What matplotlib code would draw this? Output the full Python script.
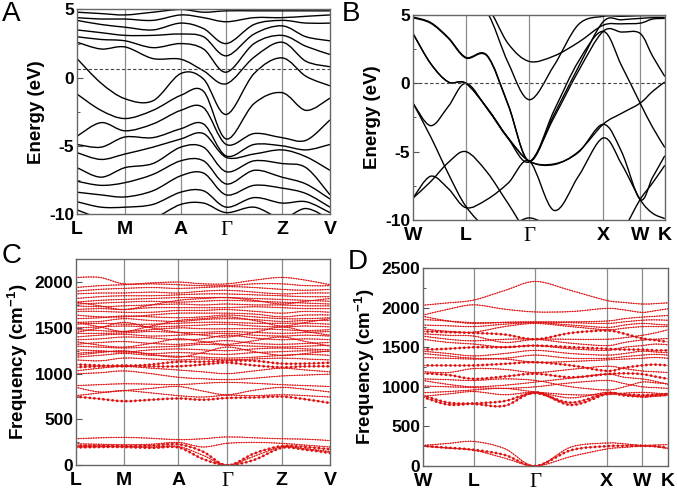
import numpy as np
import matplotlib
matplotlib.use("Agg")
import matplotlib.pyplot as plt
from matplotlib.path import Path
from matplotlib.patches import PathPatch
from matplotlib.ticker import MultipleLocator

plt.rcParams['font.family'] = 'Liberation Sans'
plt.rcParams['font.weight'] = 'bold'
plt.rcParams['axes.labelweight'] = 'bold'
plt.rcParams['axes.unicode_minus'] = False
plt.rcParams['mathtext.fontset'] = 'custom'
plt.rcParams['mathtext.bf'] = 'Liberation Sans:bold'
plt.rcParams['mathtext.rm'] = 'Liberation Sans:bold'

# ---------------- panel A: electronic bands (eV), energies sorted per k point
a_kpos = [0, 0.19, 0.41, 0.59, 0.81, 1.0]
a_klabels = ['L', 'M', 'A', 'Γ', 'Z', 'V']
a_k = [0, 0.095, 0.19, 0.30, 0.41, 0.50, 0.59, 0.70, 0.81, 0.905, 1.0]
a_energy_by_k = [
    [5.3, 4.8, 4.4, 4.2, 3.5, 3.0, 2.6, 1.4, -1.2, -4.3, -4.9, -5.5, -6.6, -7.6, -8.4, -9.1, -9.7, -10.3],
    [5.2, 4.7, 4.3, 3.9, 3.3, 2.8, 2.1, -0.4, -2.4, -3.3, -5.1, -6.0, -7.3, -7.9, -8.6, -9.5, -10.3, -10.6],
    [5.2, 4.6, 4.3, 3.7, 3.1, 2.7, 2.25, -1.55, -3.0, -3.9, -4.35, -5.6, -6.6, -7.7, -8.75, -9.5, -10.3, -10.6],
    [5.3, 4.8, 4.2, 3.5, 3.1, 2.2, 1.4, -1.7, -2.4, -3.4, -4.4, -5.1, -6.3, -7.1, -8.3, -9.3, -10.3, -10.6],
    [5.3, 5.0, 4.6, 4.0, 3.2, 2.5, 1.35, 0.3, -1.3, -2.4, -3.75, -4.5, -5.1, -6.1, -7.2, -8.4, -9.3, -10.3],
    [5.3, 4.8, 4.4, 3.6, 3.0, 2.1, 0.5, -0.1, -1.0, -2.2, -3.4, -4.1, -5.1, -6.1, -7.0, -8.3, -9.2, -10.3],
    [5.3, 4.9, 4.1, 2.5, 1.6, 0.4, -0.45, -2.7, -4.5, -4.9, -5.75, -5.85, -6.9, -7.8, -8.6, -9.5, -9.9, -10.4],
    [5.2, 4.9, 4.4, 3.9, 3.2, 2.5, 1.5, 0.3, -1.9, -4.1, -4.9, -5.6, -6.1, -6.8, -7.9, -8.8, -9.5, -10.3],
    [5.2, 4.9, 4.4, 4.2, 3.8, 3.1, 2.6, 1.45, -1.1, -4.4, -5.0, -5.3, -6.3, -7.3, -8.1, -9.2, -10.3, -10.6],
    [5.2, 4.9, 4.5, 4.0, 3.0, 2.3, 1.2, 0.1, -2.4, -4.6, -5.3, -5.8, -6.6, -7.8, -8.5, -9.1, -9.6, -10.4],
    [5.2, 4.9, 4.6, 4.0, 2.7, 1.7, 0.8, -0.6, -1.5, -3.1, -4.9, -6.8, -8.6, -8.9, -9.5, -9.9, -10.4, -10.8],
]
a_fermi = 0.65

# ---------------- panel B: electronic bands (eV)
b_kpos = [0, 0.21, 0.462, 0.755, 0.902, 1.0]
b_klabels = ['W', 'L', 'Γ', 'X', 'W', 'K']
b_k = [0, 0.07, 0.14, 0.21, 0.294, 0.378, 0.462, 0.56, 0.657, 0.755, 0.828, 0.902, 0.951, 1.0]
b_bands = [
    [4.8, 4.4, 3.3, 1.85, 2.0, -1.6, -5.7, -2.3, 1.2, 4.5, 4.65, 4.75, 4.8, 4.8],
    [4.85, 4.45, 3.35, 1.9, 2.05, -1.55, -5.7, -2.0, 1.6, 3.8, 1.3, -1.45, -3.2, -4.7],
    [3.65, 1.45, 0.1, 0.0, -1.8, -4.0, -5.7, -5.95, -5.0, -3.0, -2.2, -1.45, -0.6, 0.1],
    [3.65, 1.45, 0.1, 0.0, -1.8, -4.0, -5.7, -5.9, -5.05, -3.0, -5.0, -8.5, -6.9, -5.3],
    [-1.45, -3.1, -1.7, 0.0, -1.85, -4.05, -5.75, -2.5, 0.9, 3.8, 3.75, 3.65, 2.0, 0.5],
    [-1.45, -3.9, -6.6, -9.0, -10.6, -11, -11, -11, -11, -11, -11, -11, -11, -11],
    [-8.4, -7.2, -5.8, -5.0, -6.5, -8.8, -11, -11, -11, -11, -10.8, -8.5, -7.3, -6.0],
    [-8.4, -6.8, -7.7, -9.1, -8.5, -7.3, -5.7, -9.3, -6.8, -4.0, -5.9, -8.5, -9.5, -9.9],
    [6, 6, 6, 6, 5.6, 2.9, 1.6, 2.0, 3.0, 4.25, 4.35, 4.4, 4.7, 4.75],
    [6, 6, 6, 6, 5.2, 1.5, -1.2, 1.3, 4.3, 4.9, 4.9, 4.95, 4.95, 4.95],
    [-11, -11, -11, -11, -11, -10.6, -9.85, -10.6, -11, -11, -11, -11, -11, -11],
]
b_fermi = 0.0

# ---------------- panel C: phonon bands (cm-1)
c_kpos = [0, 0.188, 0.403, 0.595, 0.809, 1.0]
c_klabels = ['L', 'M', 'A', 'Γ', 'Z', 'V']
c_k = [0, 0.094, 0.188, 0.296, 0.403, 0.499, 0.595, 0.702, 0.809, 0.905, 1.0]
c_bands = [
    [290, 300, 305, 295, 280, 290, 310, 300, 290, 285, 270],
    [235, 230, 225, 230, 250, 200, 240, 250, 240, 220, 200],
    [215, 215, 210, 215, 230, 150, 0, 130, 210, 200, 175],
    [205, 205, 205, 200, 205, 110, 0, 100, 200, 180, 150],
    [195, 200, 200, 190, 195, 70, 0, 60, 190, 170, 135],
    [870, 880, 890, 885, 880, 895, 905, 895, 880, 870, 860],
    [850, 800, 815, 840, 860, 810, 770, 820, 850, 830, 800],
    [760, 790, 815, 790, 760, 745, 765, 760, 770, 760, 745],
    [750, 725, 700, 715, 730, 715, 735, 740, 750, 720, 680],
    [1000, 1010, 1030, 1000, 960, 945, 935, 950, 975, 985, 995],
    [1030, 1060, 1080, 1060, 1040, 1020, 1000, 1030, 1060, 1040, 1020],
    [1070, 1080, 1090, 1080, 1080, 1100, 1120, 1090, 1070, 1080, 1080],
    [1100, 1090, 1080, 1100, 1130, 1130, 1140, 1140, 1110, 1110, 1120],
    [1150, 1140, 1170, 1160, 1150, 1160, 1150, 1160, 1170, 1160, 1150],
    [1180, 1200, 1220, 1200, 1190, 1180, 1170, 1180, 1200, 1210, 1200],
    [1220, 1240, 1240, 1220, 1230, 1220, 1210, 1230, 1240, 1250, 1240],
    [1260, 1250, 1235, 1260, 1270, 1260, 1250, 1270, 1280, 1270, 1260],
    [1300, 1290, 1280, 1290, 1300, 1320, 1310, 1300, 1290, 1300, 1310],
    [1320, 1340, 1350, 1330, 1320, 1340, 1360, 1330, 1320, 1330, 1340],
    [1370, 1380, 1400, 1390, 1370, 1380, 1420, 1390, 1370, 1380, 1370],
    [1400, 1420, 1430, 1410, 1420, 1430, 1440, 1420, 1410, 1420, 1410],
    [1440, 1440, 1445, 1460, 1450, 1450, 1460, 1450, 1440, 1450, 1460],
    [1480, 1470, 1460, 1480, 1500, 1490, 1490, 1490, 1480, 1470, 1480],
    [1500, 1510, 1520, 1510, 1520, 1530, 1540, 1520, 1510, 1520, 1510],
    [1540, 1550, 1540, 1540, 1550, 1560, 1560, 1550, 1550, 1550, 1540],
    [1560, 1570, 1600, 1580, 1570, 1590, 1600, 1590, 1570, 1580, 1580],
    [1600, 1610, 1630, 1620, 1610, 1620, 1640, 1620, 1600, 1600, 1610],
    [1640, 1620, 1620, 1640, 1660, 1660, 1660, 1650, 1620, 1640, 1640],
    [1680, 1680, 1670, 1670, 1690, 1690, 1700, 1680, 1660, 1680, 1670],
    [1700, 1710, 1700, 1720, 1720, 1720, 1720, 1730, 1720, 1710, 1710],
    [1740, 1730, 1740, 1750, 1760, 1750, 1760, 1750, 1750, 1740, 1740],
    [1760, 1770, 1780, 1790, 1780, 1790, 1800, 1790, 1780, 1770, 1760],
    [1780, 1800, 1810, 1820, 1830, 1830, 1830, 1820, 1810, 1800, 1790],
    [1820, 1840, 1850, 1850, 1860, 1870, 1870, 1860, 1850, 1840, 1840],
    [1870, 1880, 1880, 1890, 1880, 1900, 1910, 1890, 1870, 1880, 1880],
    [1900, 1920, 1930, 1940, 1930, 1940, 1950, 1940, 1920, 1910, 1920],
    [1940, 1960, 1970, 1980, 1970, 1960, 1960, 1980, 1980, 1960, 1960],
    [2050, 2050, 1980, 1990, 2000, 1980, 1980, 2020, 2050, 2020, 1970],
    [1450, 1500, 1560, 1500, 1450, 1420, 1400, 1450, 1510, 1460, 1420],
    [1560, 1510, 1460, 1520, 1580, 1600, 1620, 1580, 1520, 1560, 1600],
    [1780, 1740, 1700, 1750, 1800, 1820, 1830, 1800, 1760, 1790, 1820],
    [1200, 1230, 1250, 1210, 1180, 1230, 1290, 1240, 1200, 1220, 1250],
    [1350, 1310, 1290, 1330, 1380, 1350, 1320, 1360, 1400, 1350, 1300],
]
c_heavy = [2, 4, 8, 11, 12]

# ---------------- panel D: phonon bands (cm-1)
d_kpos = [0, 0.207, 0.459, 0.75, 0.894, 1.0]
d_klabels = ['W', 'L', 'Γ', 'X', 'W', 'K']
d_k = [0, 0.1035, 0.207, 0.333, 0.459, 0.6045, 0.75, 0.822, 0.894, 0.947, 1.0]
d_bands = [
    [260, 285, 310, 220, 0, 240, 290, 280, 260, 265, 270],
    [255, 230, 205, 140, 0, 200, 250, 255, 255, 250, 230],
    [250, 225, 200, 100, 0, 120, 215, 235, 250, 245, 220],
    [2030, 2060, 2095, 2215, 2330, 2215, 2090, 2065, 2045, 2050, 2060],
    [1905, 1980, 2035, 1980, 1945, 1950, 1990, 1970, 1940, 1960, 1985],
    [1850, 1830, 1810, 1810, 1815, 1820, 1830, 1860, 1880, 1890, 1900],
    [1890, 1830, 1800, 1815, 1820, 1810, 1800, 1820, 1840, 1845, 1840],
    [1780, 1770, 1760, 1790, 1810, 1780, 1750, 1780, 1800, 1790, 1780],
    [1730, 1700, 1690, 1760, 1800, 1760, 1720, 1740, 1760, 1760, 1760],
    [1700, 1690, 1680, 1660, 1600, 1680, 1710, 1670, 1610, 1590, 1565],
    [1670, 1650, 1640, 1560, 1600, 1600, 1600, 1620, 1650, 1680, 1720],
    [1640, 1600, 1580, 1600, 1600, 1550, 1520, 1560, 1590, 1600, 1610],
    [1600, 1560, 1540, 1500, 1520, 1480, 1460, 1500, 1520, 1540, 1530],
    [1470, 1480, 1500, 1500, 1520, 1500, 1480, 1470, 1470, 1460, 1460],
    [1450, 1420, 1390, 1420, 1460, 1420, 1400, 1420, 1450, 1440, 1430],
    [1420, 1390, 1360, 1360, 1400, 1360, 1360, 1380, 1400, 1410, 1400],
    [1370, 1360, 1350, 1350, 1310, 1320, 1340, 1350, 1360, 1370, 1360],
    [1270, 1270, 1270, 1290, 1310, 1270, 1200, 1240, 1270, 1280, 1270],
    [1190, 1180, 1230, 1220, 1180, 1220, 1260, 1230, 1200, 1190, 1180],
    [1170, 1150, 1100, 1130, 1165, 1120, 1160, 1170, 1160, 1130, 1100],
    [1100, 1090, 1080, 1100, 1080, 1000, 960, 1000, 1060, 1050, 1040],
    [1080, 1030, 1000, 1020, 1060, 1110, 1160, 1120, 1100, 1070, 1030],
    [1010, 1000, 990, 980, 1000, 1050, 1080, 1040, 1000, 990, 980],
    [925, 940, 960, 980, 935, 900, 900, 920, 930, 920, 910],
    [890, 800, 785, 760, 930, 770, 910, 905, 895, 900, 910],
    [870, 775, 790, 820, 920, 800, 920, 890, 880, 890, 900],
    [880, 910, 940, 900, 930, 860, 930, 900, 870, 880, 890],
]
d_heavy = [1, 9, 13, 17, 19, 24, 25]

RED = '#dd1111'


def smooth_path(k, e):
    # cubic curve through every read point (Catmull-Rom control points)
    p = np.column_stack([k, e]).astype(float)
    n = len(p)
    verts = [p[0]]
    codes = [Path.MOVETO]
    for i in range(n - 1):
        p0 = p[i - 1] if i > 0 else p[i]
        p3 = p[i + 2] if i + 2 < n else p[i + 1]
        verts += [p[i] + (p[i + 1] - p0) / 6, p[i + 1] - (p3 - p[i]) / 6, p[i + 1]]
        codes += [Path.CURVE4] * 3
    return Path(verts, codes)


def style_axes(ax, kpos, klabels, ylim, major, minor, ylabel):
    ax.set_xlim(0, 1)
    ax.set_ylim(*ylim)
    for x in kpos[1:-1]:
        ax.axvline(x, color='#8c8c8c', lw=0.9, zorder=0)
    ax.set_xticks(kpos)
    ax.set_xticklabels(klabels)
    for t, lab in zip(ax.get_xticklabels(), klabels):
        if lab == 'Γ':
            t.set_fontfamily('Liberation Serif')
            t.set_fontweight('normal')
            t.set_fontsize(15)
        else:
            t.set_fontsize(14)
    ax.tick_params(axis='x', length=0, pad=5)
    ax.yaxis.set_major_locator(MultipleLocator(major))
    ax.yaxis.set_minor_locator(MultipleLocator(minor))
    ax.tick_params(axis='y', which='major', direction='in', length=4, width=0.8,
                   labelsize=12.5, pad=2, color='#555555')
    ax.tick_params(axis='y', which='minor', direction='in', length=2.5, width=0.7,
                   color='#555555')
    for s in ax.spines.values():
        s.set_color('#666666')
        s.set_linewidth(1.0)
    ax.set_ylabel(ylabel, fontsize=13.5, labelpad=3)


fig = plt.figure(figsize=(6.77, 4.91), dpi=100)

# A
axA = fig.add_axes([0.1137, 0.5642, 0.3737, 0.4165])
a_bands = np.array(a_energy_by_k).T
for band in a_bands:
    axA.add_patch(PathPatch(smooth_path(a_k, band), fill=False, ec='black', lw=1.0))
axA.axhline(a_fermi, color='#444444', lw=0.8, ls=(0, (3, 2)))
style_axes(axA, a_kpos, a_klabels, (-10, 5), 5, 2.5, 'Energy (eV)')

# B
axB = fig.add_axes([0.610, 0.552, 0.372, 0.4175])
for band in b_bands:
    axB.add_patch(PathPatch(smooth_path(b_k, band), fill=False, ec='black', lw=1.0))
axB.axhline(b_fermi, color='#444444', lw=0.8, ls=(0, (3, 2)))
style_axes(axB, b_kpos, b_klabels, (-10, 5), 5, 2.5, 'Energy (eV)')


def draw_phonons(ax, k, bands, heavy):
    for i, band in enumerate(bands):
        p = smooth_path(k, band)
        ax.add_patch(PathPatch(p, fill=False, ec=RED, lw=0.5, alpha=0.8))
        ax.add_patch(PathPatch(p, fill=False, ec=RED, lw=2.0 if i in heavy else 1.1,
                               ls=(0, (0.05, 1.6)), capstyle='round'))


# C
axC = fig.add_axes([0.1123, 0.0523, 0.3752, 0.420])
draw_phonons(axC, c_k, c_bands, c_heavy)
style_axes(axC, c_kpos, c_klabels, (0, 2250), 500, 250, r'Frequency (cm$^{\mathbf{-1}}$)')

# D
axD = fig.add_axes([0.6248, 0.0509, 0.3619, 0.4033])
draw_phonons(axD, d_k, d_bands, d_heavy)
style_axes(axD, d_kpos, d_klabels, (0, 2500), 500, 250, r'Frequency (cm$^{\mathbf{-1}}$)')

for lab, x, y in [('A', 0.003, 0.997), ('B', 0.505, 0.997), ('C', 0.003, 0.505), ('D', 0.513, 0.492)]:
    fig.text(x, y, lab, fontsize=20, fontweight='normal', va='top', ha='left')

fig.savefig('out.png', dpi=100)
